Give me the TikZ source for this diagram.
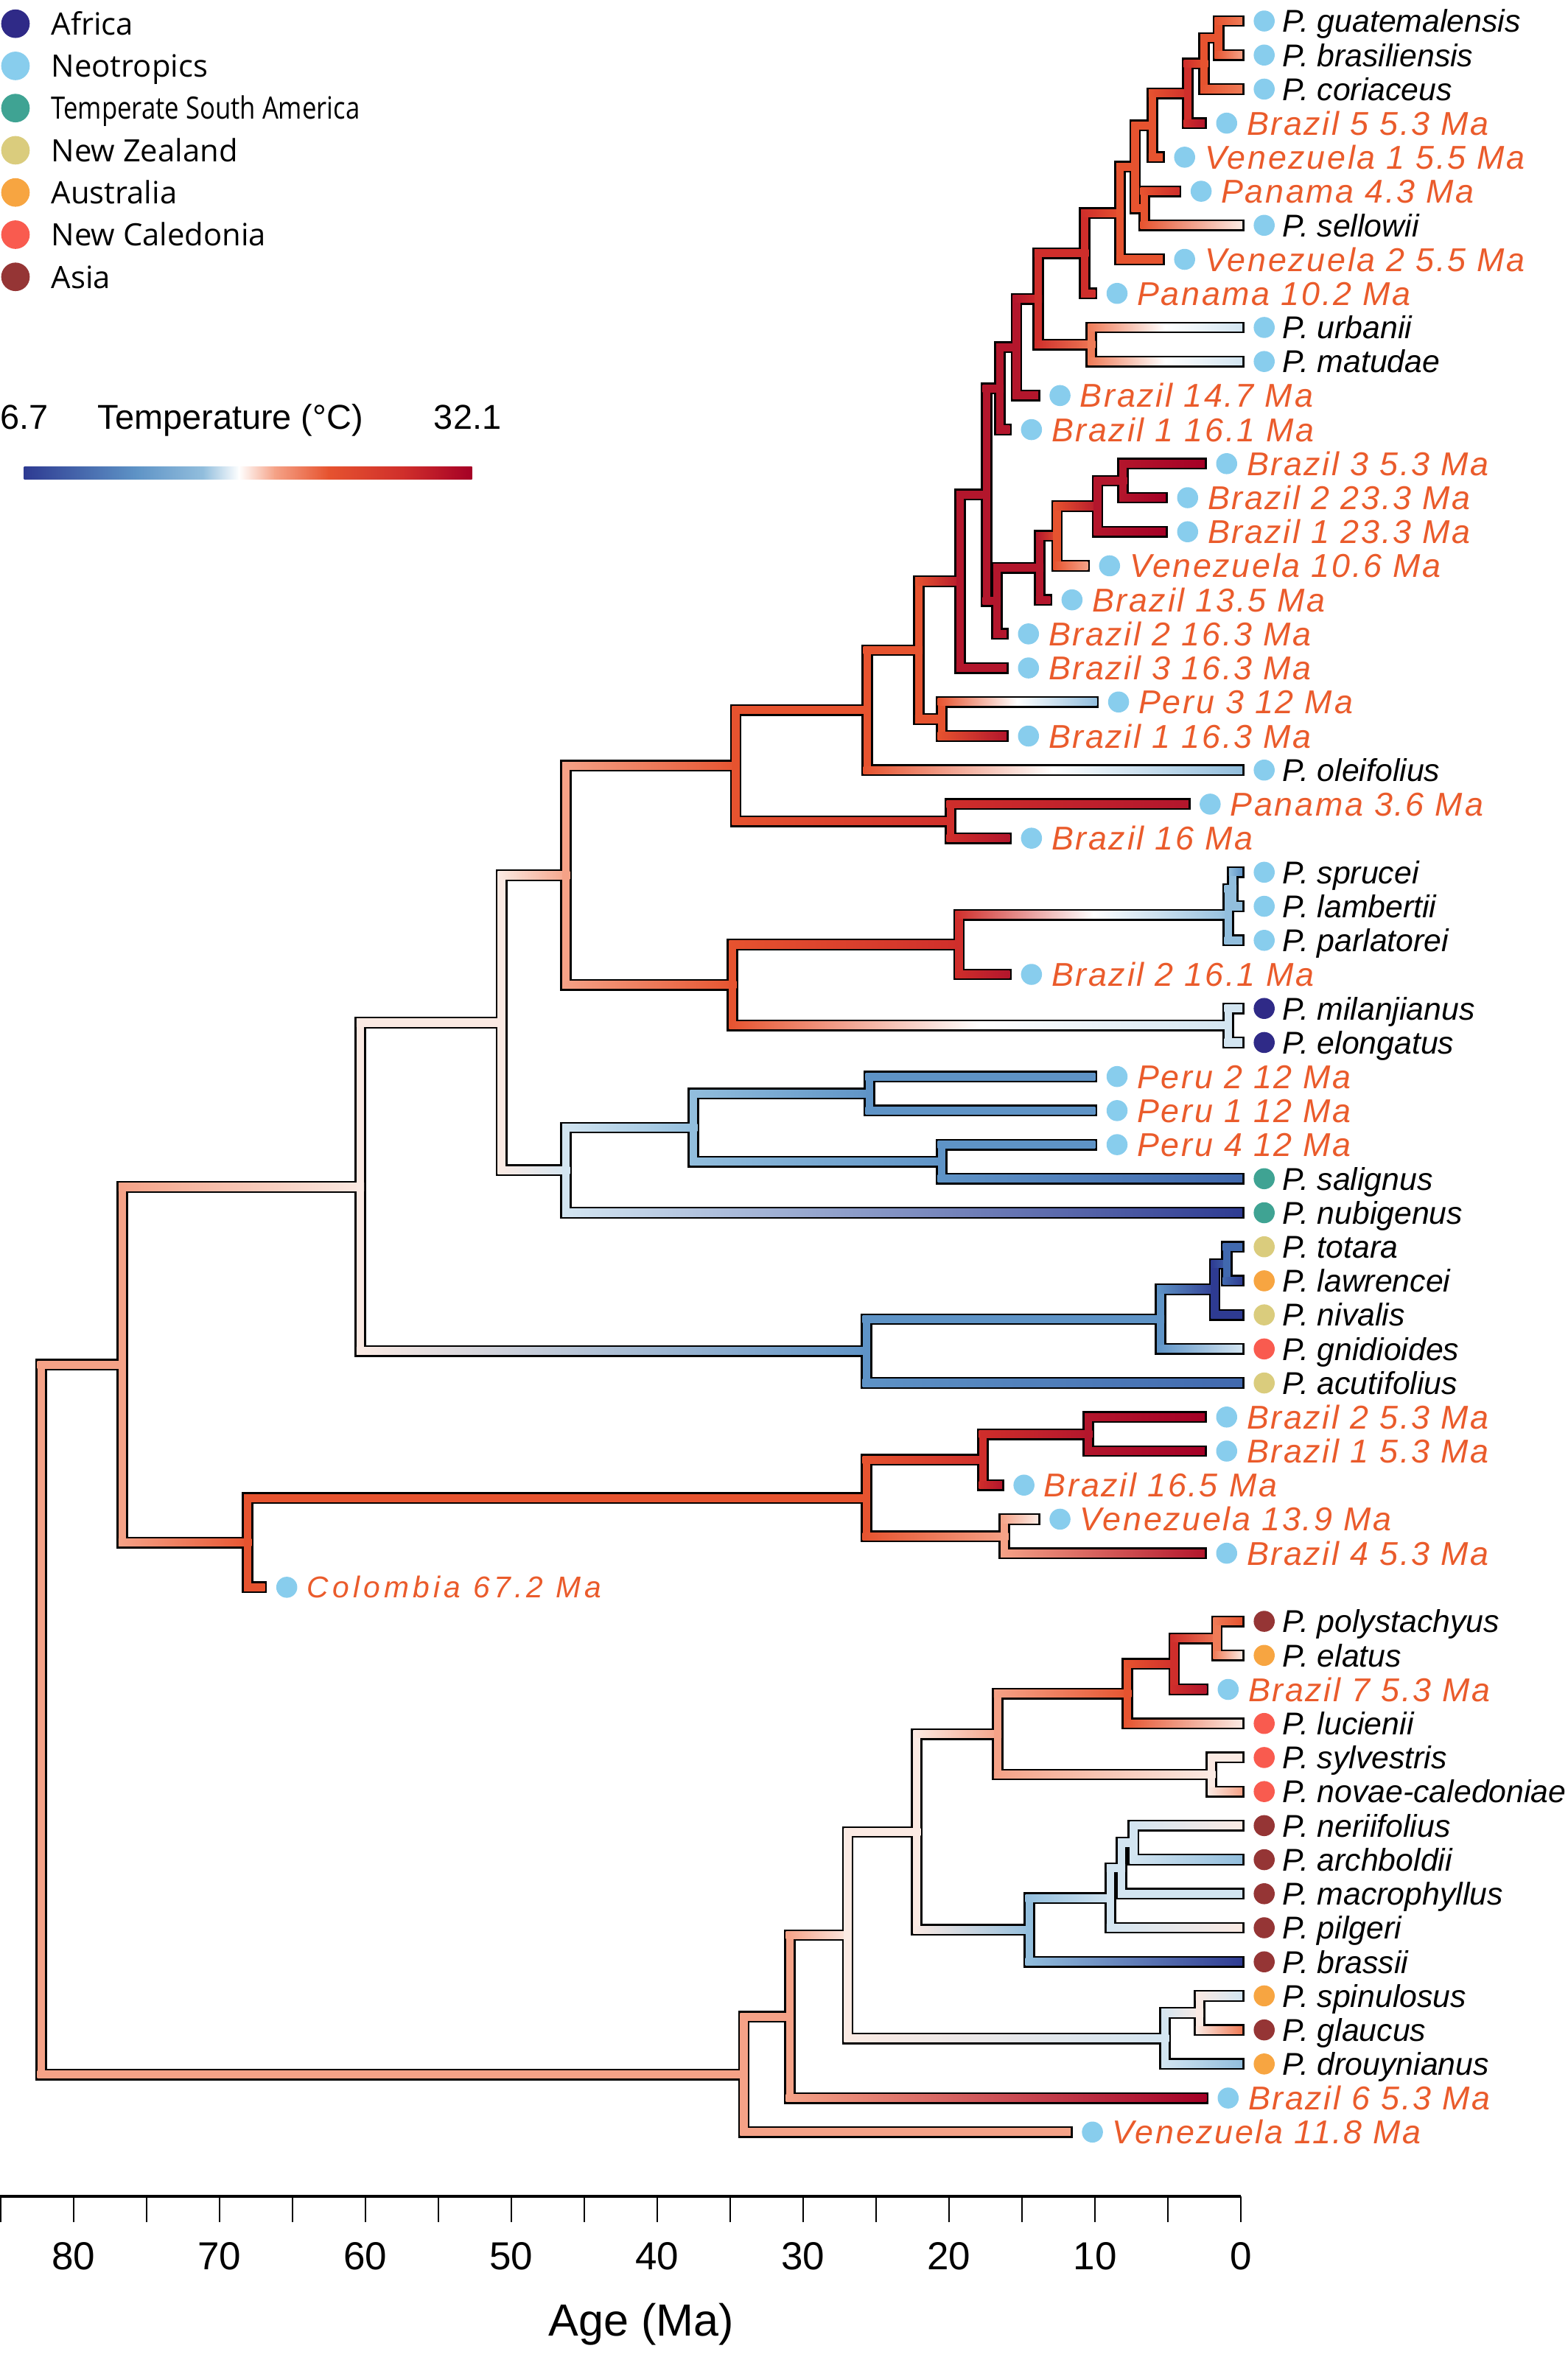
\documentclass[tikz,border=0pt]{standalone}
\usepackage{fontspec}
\setmainfont{Liberation Sans}
\newfontfamily\legfont{Open Sans}
\newfontfamily\fosfont{Liberation Sans}[LetterSpace=6]
\newfontfamily\colfont{Liberation Sans}[LetterSpace=13]
\usetikzlibrary{positioning,calc}

\definecolor{tc0}{HTML}{2E3B92}
\definecolor{tc1}{HTML}{4169AE}
\definecolor{tc2}{HTML}{5E93C6}
\definecolor{tc3}{HTML}{92BEDD}
\definecolor{tc4}{HTML}{D3E5F1}
\definecolor{tc5}{HTML}{FBEAE3}
\definecolor{tc6}{HTML}{F5A287}
\definecolor{tc7}{HTML}{EF7B57}
\definecolor{tc8}{HTML}{E6532F}
\definecolor{tc9}{HTML}{CF2E2B}
\definecolor{tc10}{HTML}{B3162C}
\definecolor{tc11}{HTML}{A50026}
\definecolor{afr}{HTML}{2F2A87}
\definecolor{neo}{HTML}{88CDED}
\definecolor{tsa}{HTML}{3FA393}
\definecolor{nz}{HTML}{DACC7D}
\definecolor{aus}{HTML}{F7A541}
\definecolor{nc}{HTML}{F95B4F}
\definecolor{asia}{HTML}{953535}
\definecolor{fossil}{HTML}{EA5B2B}

\begin{document}
\begin{tikzpicture}[x=1pt, y=-1pt,
  outl/.style={line width=7.8pt, line cap=rect, line join=miter, black},
  tipdot/.style={circle, inner sep=0pt, minimum size=14pt},
  legdot/.style={circle, inner sep=0pt, minimum size=19pt},
  splab/.style={inner sep=0pt, text height=15pt, text depth=0pt, font=\fontsize{21}{25}\selectfont\itshape},
  folab/.style={splab, text height=15.7pt, text=fossil, font=\fosfont\fontsize{22}{26}\selectfont\itshape},
  leglab/.style={inner sep=0pt, text height=15pt, text depth=0pt, font=\legfont\fontsize{20.5}{24}\selectfont},
  scalelab/.style={inner sep=0pt, anchor=base west, font=\fontsize{23}{26}\selectfont}]
\useasboundingbox (0,0) rectangle (1044,1568);

% tree nodes: name / x / y / temperature class
\foreach \n/\x/\y/\k in {root/27.3/1145.4/6, A20/81.4/909/6, G5/165/1027.5/8, G3/577/997.8/8,
  G2/654.5/972.3/9, G1/725/955.3/10, G4/669/1023.3/6, A19/240/790.6/5, F/577/900/2,
  F1/773/878.7/2, F2/809/858.8/0, TL/817/841.9/1, A18/334/681.2/5, E/377/779.5/4,
  E1/462/751.1/3, E2/579/728.4/2, E3/627/773.8/2, A17/377/583/6, D/488/656.1/8,
  D1/638.7/629.2/9, SL/818/609.4/3, SL1/821/592.3/3, D2/818/683/4, A16/490/510/8,
  PB2/633/547/9, A15/577.5/473/8, A14/612/433.1/8, PB/627/479/8, A13/639.4/387.2/10,
  A12/657/329.5/10, A12a/664/400.3/10, C4/692.5/378.3/10, C3/704/357/8, C2/731/337.2/10,
  C1/748/320.2/10, A11/666/258.8/10, A10/677/231.3/10, A9/691.5/199.1/9, UM/727/229.5/7,
  A8/722.5/168.7/9, A7/746/142/8, A6/756/111.1/8, A5/762/138.8/8, A4/767.5/83.5/8,
  A3/791/62.2/9, A2/802/42.4/8, A1/811.5/25.3/8, H/495.4/1381.8/6, H8/526/1343.3/6,
  H7/564.6/1289/5, J2/776/1357.8/4, J1/799/1340.8/5, H6/610.7/1220.3/5, I4/685.5/1285.5/3,
  I3/739.5/1264.3/4, I2/747/1244.4/4, I1/755/1227.4/4, H5/664.5/1155.1/6, H4/807/1182/5,
  H3/751/1128.2/8, H2/782/1108.3/9, H1/810.5/1091.3/7}{
  \coordinate (\n) at (\x,\y);
  \expandafter\xdef\csname tvl\n\endcsname{\k}
}
% tips: row / end x / temperature class
\foreach \i/\x/\k in {1/825/7, 2/825/6, 3/825/7, 4/800/10, 5/772/8, 6/783/9, 7/825/5,
  8/772/8, 9/727/9, 10/825/4, 11/825/4, 12/689/10, 13/670/10, 14/800/11, 15/774/11,
  16/774/11, 17/722/6, 18/697/10, 19/668/10, 20/668/10, 21/728/3, 22/668/10, 23/825/3,
  24/789/10, 25/670/10, 26/825/2, 27/825/3, 28/825/3, 29/670/10, 30/825/4, 31/825/4,
  32/727/2, 33/727/2, 34/727/2, 35/825/1, 36/825/0, 37/825/1, 38/825/0, 39/825/0,
  40/825/4, 41/825/1, 42/800/11, 43/800/11, 44/665/10, 45/689/5, 46/800/10, 47/174/8,
  48/825/8, 49/825/5, 50/801/10, 51/825/5, 52/825/5, 53/825/6, 54/825/5, 55/825/3,
  56/825/4, 57/825/5, 58/825/0, 59/825/4, 60/825/7, 61/825/3, 62/801/11, 63/710.6/6}{
  \pgfmathsetmacro\yy{14+22.68*(\i-1)}
  \coordinate (t\i) at (\x,\yy);
  \expandafter\xdef\csname tvlt\i\endcsname{\k}
}

\def\edges{root/A20, root/H, A20/A19, A20/G5, G5/G3, G5/t47, G3/G2, G3/G4, G2/G1, G2/t44, G1/t42,
  G1/t43, G4/t45, G4/t46, A19/A18, A19/F, F/F1, F/t41, F1/F2, F1/t40, F2/TL, F2/t39, TL/t37, TL/t38,
  A18/A17, A18/E, E/E1, E/t36, E1/E2, E1/E3, E2/t32, E2/t33, E3/t34, E3/t35, A17/A16, A17/D, D/D1,
  D/D2, D1/SL, D1/t29, SL/SL1, SL/t28, SL1/t26, SL1/t27, D2/t30, D2/t31, A16/A15, A16/PB2, PB2/t24,
  PB2/t25, A15/A14, A15/t23, A14/A13, A14/PB, PB/t21, PB/t22, A13/A12, A13/t20, A12/A11, A12/A12a,
  A12a/C4, A12a/t19, C4/C3, C4/t18, C3/C2, C3/t17, C2/C1, C2/t16, C1/t14, C1/t15, A11/A10, A11/t13,
  A10/A9, A10/t12, A9/A8, A9/UM, UM/t10, UM/t11, A8/A7, A8/t9, A7/A6, A7/t8, A6/A4, A6/A5, A5/t6,
  A5/t7, A4/A3, A4/t5, A3/A2, A3/t4, A2/A1, A2/t3, A1/t1, A1/t2, H/H8, H/t63, H8/H7, H8/t62, H7/H6,
  H7/J2, J2/J1, J2/t61, J1/t59, J1/t60, H6/H5, H6/I4, I4/I3, I4/t58, I3/I2, I3/t57, I2/I1, I2/t56,
  I1/t54, I1/t55, H5/H3, H5/H4, H4/t52, H4/t53, H3/H2, H3/t51, H2/H1, H2/t50, H1/t48, H1/t49}

\foreach \pa/\ch in \edges {\draw[outl] (\pa) |- (\ch);}
\foreach \pa/\ch in \edges {
  \edef\pk{\csname tvl\pa\endcsname}
  \edef\ck{\csname tvl\ch\endcsname}
  \fill[fill=tc\pk] ($(\pa)+(-2.5,0)$) rectangle ($(\pa |- \ch)+(2.5,0)$);
  \ifnum\numexpr(\pk-5)*(5-\ck)\relax>0
    \shade[left color=tc\pk, right color=tc\ck, middle color=white] ($(\pa |- \ch)+(-2.5,-2.5)$) rectangle ($(\ch)+(2.5,2.5)$);
  \else
    \shade[left color=tc\pk, right color=tc\ck] ($(\pa |- \ch)+(-2.5,-2.5)$) rectangle ($(\ch)+(2.5,2.5)$);
  \fi
}

\foreach \i/\ar/\txt in {1/neo/P. guatemalensis, 2/neo/P. brasiliensis, 3/neo/P. coriaceus,
  7/neo/P. sellowii, 10/neo/P. urbanii, 11/neo/P. matudae, 23/neo/P. oleifolius, 26/neo/P. sprucei,
  27/neo/P. lambertii, 28/neo/P. parlatorei, 30/afr/P. milanjianus, 31/afr/P. elongatus,
  35/tsa/P. salignus, 36/tsa/P. nubigenus, 37/nz/P. totara, 38/aus/P. lawrencei, 39/nz/P. nivalis,
  40/nc/P. gnidioides, 41/nz/P. acutifolius, 48/asia/P. polystachyus, 49/aus/P. elatus,
  51/nc/P. lucienii, 52/nc/P. sylvestris, 53/nc/P. novae-caledoniae, 54/asia/P. neriifolius,
  55/asia/P. archboldii, 56/asia/P. macrophyllus, 57/asia/P. pilgeri, 58/asia/P. brassii,
  59/aus/P. spinulosus, 60/asia/P. glaucus, 61/aus/P. drouynianus}{
  \node (d\i) [tipdot, fill=\ar] at ($(t\i)+(17,0)$) {};
  \node (l\i) [splab, right=5pt of d\i] {\txt};
}
\foreach \i/\txt in {4/Brazil 5 5.3 Ma, 5/Venezuela 1 5.5 Ma, 6/Panama 4.3 Ma, 8/Venezuela 2 5.5 Ma,
  9/Panama 10.2 Ma, 12/Brazil 14.7 Ma, 13/Brazil 1 16.1 Ma, 14/Brazil 3 5.3 Ma, 15/Brazil 2 23.3 Ma,
  16/Brazil 1 23.3 Ma, 17/Venezuela 10.6 Ma, 18/Brazil 13.5 Ma, 19/Brazil 2 16.3 Ma,
  20/Brazil 3 16.3 Ma, 21/Peru 3 12 Ma, 22/Brazil 1 16.3 Ma, 24/Panama 3.6 Ma, 25/Brazil 16 Ma,
  29/Brazil 2 16.1 Ma, 32/Peru 2 12 Ma, 33/Peru 1 12 Ma, 34/Peru 4 12 Ma, 42/Brazil 2 5.3 Ma,
  43/Brazil 1 5.3 Ma, 44/Brazil 16.5 Ma, 45/Venezuela 13.9 Ma, 46/Brazil 4 5.3 Ma,
  50/Brazil 7 5.3 Ma, 62/Brazil 6 5.3 Ma, 63/Venezuela 11.8 Ma}{
  \node (d\i) [tipdot, fill=neo] at ($(t\i)+(17,0)$) {};
  \node (l\i) [folab, right=6pt of d\i] {\txt};
}
\node (d47) [tipdot, fill=neo] at ($(t47)+(17,0)$) {};
\node (l47) [folab, text height=14.3pt, font=\colfont\fontsize{20}{24}\selectfont\itshape, right=6pt of d47] {Colombia 67.2 Ma};

\foreach \ar/\txt [count=\k] in {afr/Africa, neo/Neotropics, tsa/{\scalebox{0.83}[1]{Temperate South America}},
  nz/New Zealand, aus/Australia, nc/New Caledonia, asia/Asia}{
  \node (g\k) [legdot, fill=\ar] at (10.3,{15.8+28.1*(\k-1)}) {};
  \node (h\k) [leglab, right=14pt of g\k] {\txt};
}

\node (tlo) [scalelab] at (0,286) {6.7};
\node (tname) [scalelab] at (65,286) {Temperature (°C)};
\node (thi) [scalelab, anchor=base east] at (334,286) {32.1};
\foreach \a/\b/\ca/\cb in {0/0.25/tc0/tc2, 0.25/0.40/tc2/tc3, 0.40/0.48/tc3/white, 0.48/0.56/white/tc6,
  0.56/0.68/tc6/tc8, 0.68/0.85/tc8/tc9, 0.85/1/tc9/tc11}
  \shade[left color=\ca, right color=\cb] ({16+298*\a},311) rectangle ({16.4+298*\b},319);

\draw[line width=2pt] (0,1463) -- (826.5,1463);
\foreach \a in {0,5,...,85} \draw[line width=1pt] ({826.5-9.72*\a},1463) -- ++(0,17);
\foreach \a in {0,10,...,80} \node (ax\a) [font=\fontsize{26}{30}\selectfont] at ({826.5-9.72*\a},1503) {\a};
\node (axlab) [font=\fontsize{30}{34}\selectfont] at (427,1548) {Age (Ma)};
\end{tikzpicture}
\end{document}
